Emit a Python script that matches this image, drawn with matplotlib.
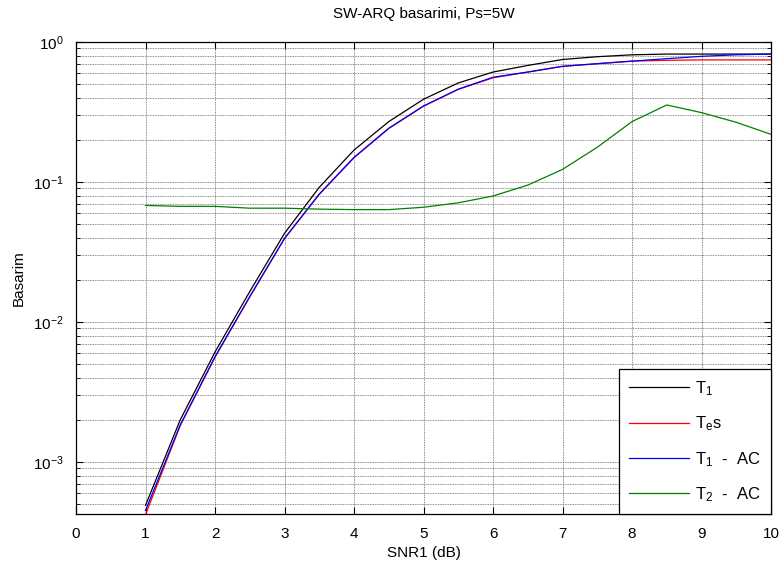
import matplotlib
matplotlib.use("Agg")
import matplotlib.pyplot as plt
import numpy as np
from matplotlib.ticker import LogLocator, NullFormatter, FixedLocator

plt.rcParams['font.family'] = ['Liberation Sans', 'DejaVu Sans']
plt.rcParams['mathtext.fontset'] = 'custom'
plt.rcParams['mathtext.rm'] = 'Liberation Sans'
plt.rcParams['mathtext.it'] = 'Liberation Sans'
plt.rcParams['mathtext.bf'] = 'Liberation Sans:bold'

snr = [1, 1.5, 2, 2.5, 3, 3.5, 4, 4.5, 5, 5.5, 6, 6.5, 7, 7.5, 8, 8.5, 9, 9.5, 10]
t1 = [4.9e-4, 2.0e-3, 6.1e-3, 0.0165, 0.043, 0.0916, 0.169, 0.27, 0.39, 0.51,
      0.61, 0.68, 0.75, 0.785, 0.81, 0.82, 0.82, 0.82, 0.82]
tes = [4.2e-4, 1.82e-3, 5.6e-3, 0.0151, 0.0394, 0.0815, 0.149, 0.241, 0.348, 0.459,
       0.555, 0.61, 0.67, 0.70, 0.73, 0.74, 0.745, 0.745, 0.745]
t1_ac = [4.5e-4, 1.84e-3, 5.65e-3, 0.0152, 0.0396, 0.082, 0.150, 0.242, 0.349, 0.46,
         0.56, 0.61, 0.67, 0.70, 0.73, 0.76, 0.79, 0.81, 0.82]
t2_ac = [0.068, 0.067, 0.067, 0.065, 0.065, 0.064, 0.0635, 0.0635, 0.066, 0.071,
         0.0794, 0.095, 0.123, 0.177, 0.27, 0.355, 0.313, 0.267, 0.219]

labels = [r'$\mathregular{T_1}$', r'$\mathregular{T_es}$',
          r'$\mathregular{T_1}$  -  AC', r'$\mathregular{T_2}$  -  AC']
colors = ['black', 'red', 'blue', 'green']

fig = plt.figure(figsize=(7.8, 5.68), dpi=100)
ax = fig.add_axes([76/780, 1 - 514/568, (771 - 76)/780, (514 - 42)/568])

for ys, c, lab in zip([t1, tes, t1_ac, t2_ac], colors, labels):
    ax.semilogy(snr, ys, color=c, lw=0.9, label=lab)

ax.set_xlim(0, 10)
ax.set_ylim(10 ** (-472 / 140), 1.0)
ax.xaxis.set_major_locator(FixedLocator(range(0, 11)))
ax.yaxis.set_major_locator(LogLocator(base=10, numticks=10))
ax.yaxis.set_minor_locator(LogLocator(base=10, subs=np.arange(2, 10), numticks=20))
ax.yaxis.set_minor_formatter(NullFormatter())

gridkw = dict(color='0.4', linestyle=(0, (1, 1)), linewidth=0.6)
ax.grid(True, which='major', axis='both', **gridkw)
ax.grid(True, which='minor', axis='y', **gridkw)

ax.tick_params(which='both', direction='in', top=True, right=True, labelsize=11)
ax.tick_params(which='major', length=5)
ax.tick_params(which='minor', length=3)
ax.tick_params(axis='x', pad=9)
ax.tick_params(axis='y', pad=9)
for s in ax.spines.values():
    s.set_linewidth(0.9)

ax.set_xlabel('SNR1 (dB)', fontsize=11, labelpad=4)
ax.set_ylabel('Basarim', fontsize=11, labelpad=5)
ax.set_title('SW-ARQ basarimi, Ps=5W', fontsize=11, pad=17)

leg = ax.legend(loc='lower right', fontsize=12, frameon=True, fancybox=False,
                edgecolor='black', framealpha=1, borderaxespad=0,
                handlelength=3.6, handletextpad=0.4, labelspacing=1.0, borderpad=0.6)
leg.get_frame().set_linewidth(0.9)

fig.savefig('out.png', dpi=100)
